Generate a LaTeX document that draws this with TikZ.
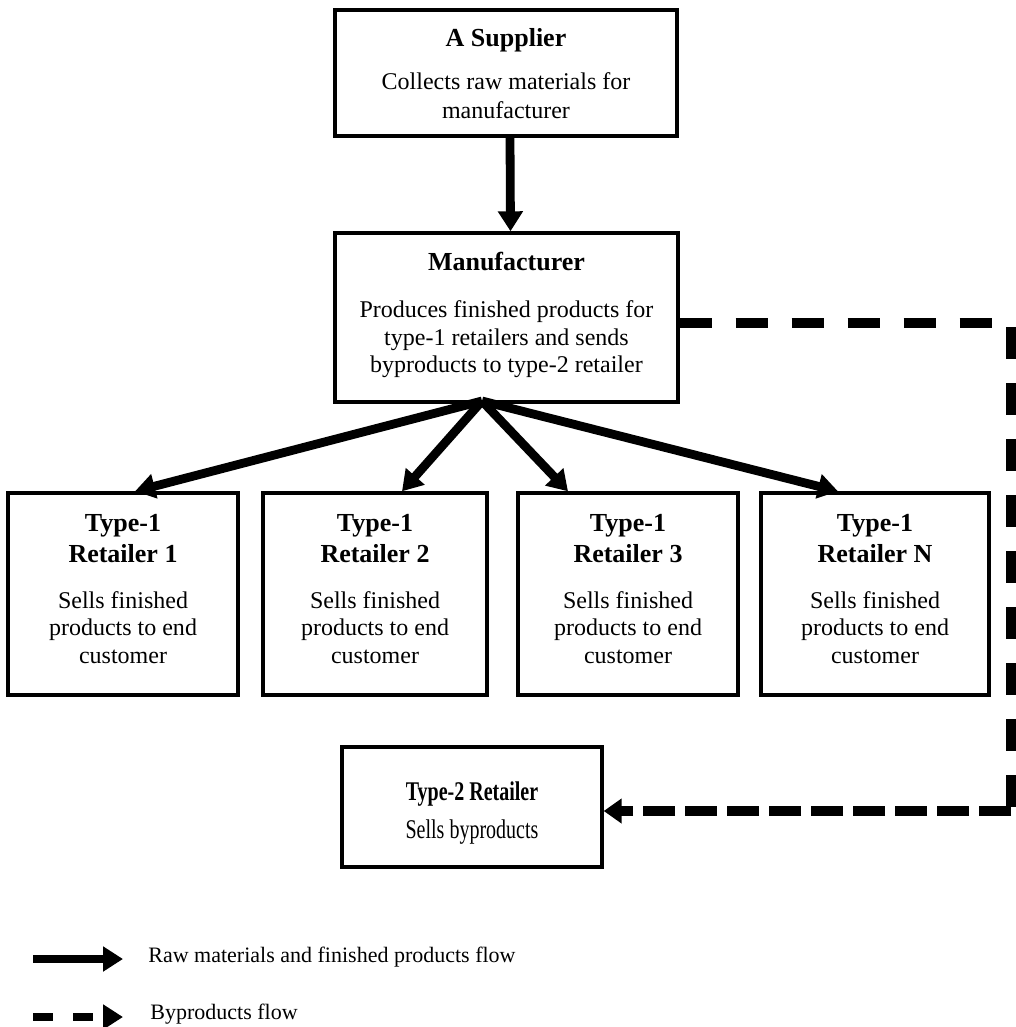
\documentclass[tikz,border=0pt]{standalone}
\usepackage{fontspec}
\usepackage{graphicx}
\setmainfont{Liberation Serif}
\usetikzlibrary{arrows.meta}
\begin{document}
\begin{tikzpicture}[x=0.5pt,y=-0.5pt,
  box/.style={draw,line width=1.7pt,inner sep=0pt},
  txt/.style={align=center,inner sep=0pt,font=\fontsize{12}{14.5}\selectfont},
  rtxt/.style={txt,font=\fontsize{12}{13.8}\selectfont},
  flow/.style={line width=4.4pt,-{Triangle[length=10pt,width=12pt]}},
  bydash/.style={line width=5pt,dash pattern=on 16pt off 12pt},
  legtext/.style={anchor=west,font=\fontsize{11}{13}\selectfont,inner sep=0pt}
]
\newcommand{\bt}[1]{{\fontsize{13}{15.5}\selectfont\bfseries #1}}
\useasboundingbox (0,0) rectangle (1016,1027);

\node[box,minimum width=171pt,minimum height=63pt] (sup) at (506,73) {};
\node[txt] (supt) at ([yshift=-0.5pt]sup.center)
  {\bt{A Supplier}\\[7pt]Collects raw materials for\\manufacturer};
\node[box,minimum width=171.5pt,minimum height=84.5pt] (mfr) at (506.5,317.5) {};
\node[rtxt] (mfrt) at ([yshift=1.2pt]mfr.center)
  {\bt{Manufacturer}\\[9.7pt]Produces finished products for\\type-1 retailers and sends\\byproducts to type-2 retailer};

\node[box,minimum width=115pt,minimum height=101pt] (r1) at (123,594) {};
\node[box,minimum width=112pt,minimum height=101pt] (r2) at (375,594) {};
\node[box,minimum width=110pt,minimum height=101pt] (r3) at (628,594) {};
\node[box,minimum width=114pt,minimum height=101pt] (rN) at (875,594) {};
\node[rtxt] (r1t) at ([yshift=2.5pt]r1.center)
  {\bt{Type-1}\\[1.7pt]\bt{Retailer 1}\\[9pt]Sells finished\\products to end\\customer};
\node[rtxt] (r2t) at ([yshift=2.5pt]r2.center)
  {\bt{Type-1}\\[1.7pt]\bt{Retailer 2}\\[9pt]Sells finished\\products to end\\customer};
\node[rtxt] (r3t) at ([yshift=2.5pt]r3.center)
  {\bt{Type-1}\\[1.7pt]\bt{Retailer 3}\\[9pt]Sells finished\\products to end\\customer};
\node[rtxt] (rNt) at ([yshift=2.5pt]rN.center)
  {\bt{Type-1}\\[1.7pt]\bt{Retailer N}\\[9pt]Sells finished\\products to end\\customer};

\node[box,minimum width=130pt,minimum height=60pt] (t2) at (472,807) {};
\node[txt,font=\fontsize{10}{14}\selectfont] (t2t) at ([yshift=-3pt]t2.center)
  {\scalebox{1}[1.35]{\bfseries Type-2 Retailer}\\[5pt]\scalebox{1}[1.35]{Sells byproducts}};

\draw[flow] ([xshift=2pt]sup.south) -- ([xshift=2pt]mfr.north);

\coordinate (fan) at (482,401);
\draw[flow] (fan) -- ([xshift=6pt]r1.north);
\draw[flow] (fan) -- ([xshift=13.5pt]r2.north);
\draw[flow] (fan) -- ([xshift=-30pt]r3.north);
\draw[flow] (fan) -- ([xshift=-18.5pt]rN.north);

\coordinate (cr) at (1011,811);
\draw[bydash] ([yshift=-2.5pt]mfr.east) -| (cr);
\draw[bydash,dash pattern=on 16pt off 5pt,-{Triangle[length=9pt,width=12pt]}] (cr) -- (t2.east |- cr);

% legend
\coordinate (l1a) at (33,959);
\coordinate (l1b) at (123,959);
\draw[flow] (l1a) -- (l1b);
\node[legtext] (l1t) at (148,957) {Raw materials and finished products flow};
\coordinate (l2a) at (33,1017);
\coordinate (l2b) at (123,1017);
\draw[flow,dash pattern=on 10pt off 10pt] (l2a) -- (l2b);
\node[legtext] (l2t) at (150,1014) {Byproducts flow};
\end{tikzpicture}
\end{document}
